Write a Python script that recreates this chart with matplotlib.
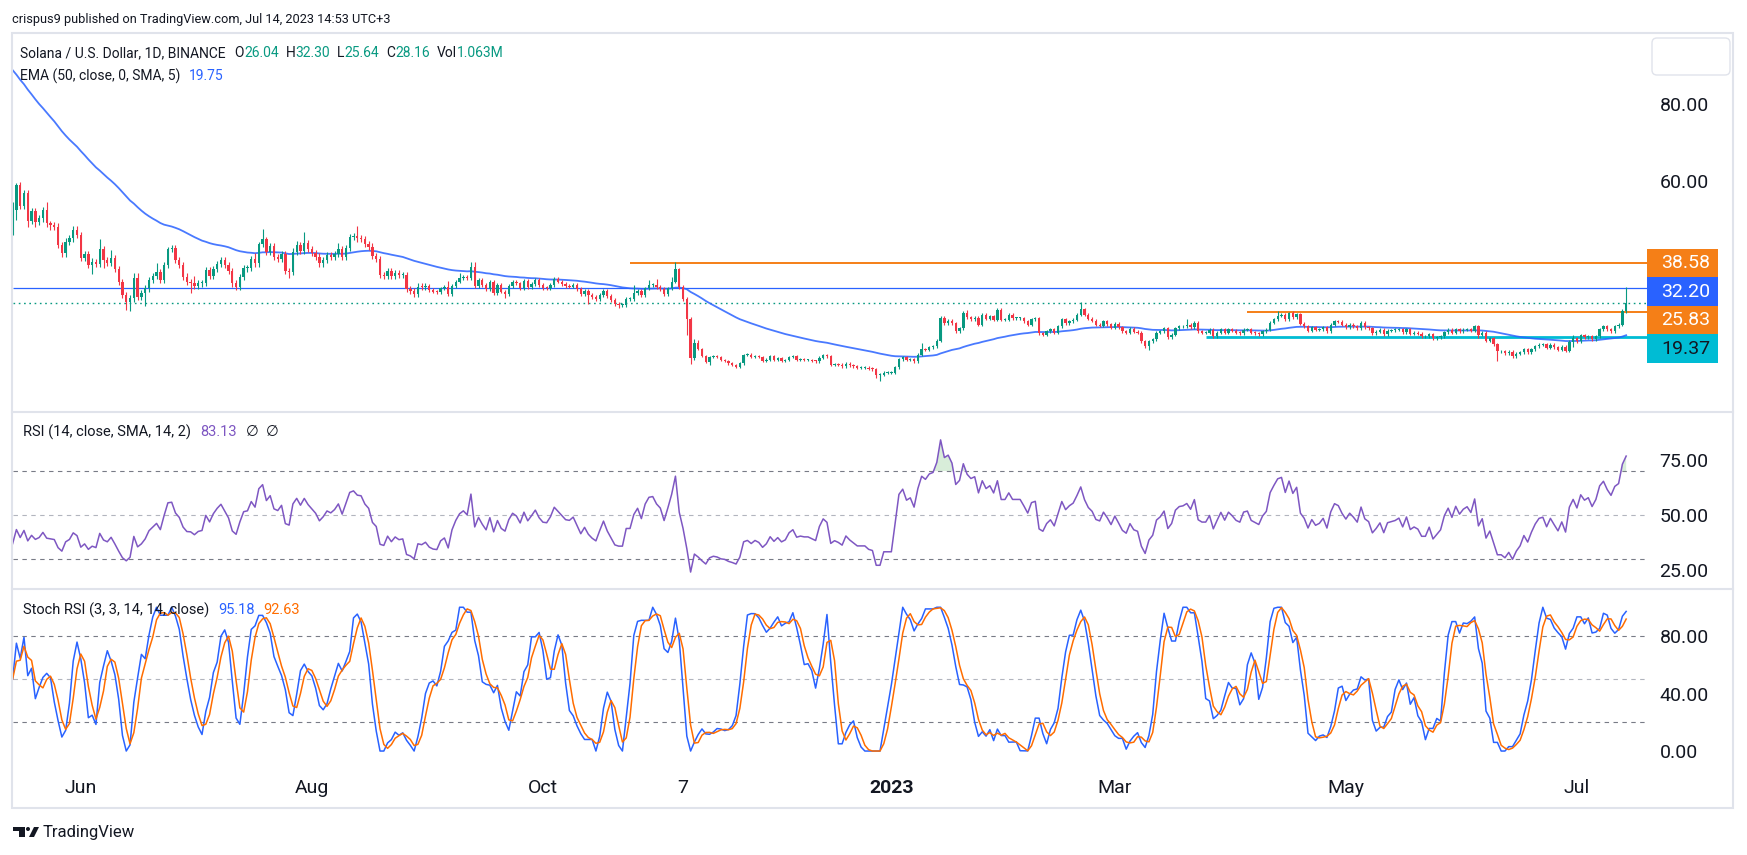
import numpy as np
import pandas as pd
import matplotlib
matplotlib.use("Agg")
import matplotlib.pyplot as plt
from matplotlib.patches import Rectangle, FancyBboxPatch, Polygon, Circle

plt.rcParams['font.family'] = ['Roboto', 'DejaVu Sans']

# daily closes, SOL/USD Binance, 14 May 2022 .. 14 Jul 2023
close_may_aug22 = [
    52.4, 58.9, 53.5, 56.9, 49.6, 52.2, 49.4, 50.2, 52.4, 48.9,
    48.5, 48.1, 43.3, 41.1, 44.2, 45.0, 47.2, 45.9, 40.0, 41.0,
    38.1, 39.0, 38.3, 42.3, 39.4, 38.6, 39.8, 37.0, 33.7, 30.3,
    28.6, 29.4, 34.6, 29.9, 30.7, 32.0, 34.2, 35.2, 36.2, 34.2,
    38.1, 42.2, 42.4, 39.4, 38.1, 35.1, 33.6, 33.5, 32.6, 33.3,
    33.5, 36.8, 35.2, 37.1, 38.4, 39.4, 38.0, 36.5, 33.3, 32.4,
    34.9, 37.2, 37.4, 39.6, 38.5, 43.5, 44.8, 41.6, 43.0, 40.1,
    39.7, 41.0, 36.6, 36.2, 41.6, 43.3, 41.7, 43.7, 42.3, 41.3,
    40.3, 38.5, 39.4, 40.7, 40.3, 41.0, 42.2, 40.3, 42.6, 45.3,
    45.7, 45.0, 44.9, 43.6, 42.9, 40.4, 39.6, 35.5, 35.2, 36.6,
    35.3, 36.0, 35.4, 35.5, 31.8, 31.4, 30.6, 32.5, 32.3, 32.6]
close_sep_dec22 = [
    31.6, 31.2, 31.1, 32.0, 32.3, 30.6, 32.6, 33.8, 34.7, 35.1,
    34.6, 37.7, 32.6, 34.2, 32.9, 31.8, 33.8, 30.9, 32.9, 31.2,
    30.6, 32.6, 33.8, 33.3, 32.0, 33.9, 32.3, 33.2, 34.2, 32.9,
    32.1, 32.0, 32.9, 34.4, 33.8, 33.2, 32.6, 32.5, 32.9, 31.8,
    30.6, 31.3, 30.3, 29.7, 29.3, 30.3, 31.3, 30.0, 29.0, 27.9,
    27.7, 27.7, 29.3, 29.3, 30.7, 31.4, 30.3, 32.0, 32.9, 33.0,
    32.3, 31.9, 30.6, 32.0, 33.8, 37.0, 32.3, 29.3, 24.1, 14.0,
    17.7, 16.3, 14.5, 12.9, 14.1, 14.4, 14.1, 13.4, 13.2, 12.5,
    12.1, 11.6, 12.5, 14.6, 14.8, 14.1, 14.5, 14.1, 13.1, 13.5,
    14.3, 13.5, 13.9, 13.2, 13.4, 14.1, 14.4, 13.4, 13.5, 13.4,
    13.4, 13.2, 13.0, 14.0, 14.6, 14.3, 12.1]
close_dec22_apr23 = [
    12.3, 12.1, 11.8, 12.4, 12.0, 11.7, 11.4, 11.4, 11.4, 11.1,
    11.0, 9.5, 9.5, 10.1, 10.1, 10.1, 11.5, 13.6, 14.1, 13.4,
    13.6, 13.0, 14.7, 16.2, 16.0, 16.7, 16.9, 18.4, 24.4, 22.9,
    23.6, 22.9, 20.8, 21.6, 25.7, 24.5, 24.0, 24.4, 22.5, 25.1,
    24.1, 24.7, 23.8, 26.4, 23.8, 23.8, 25.1, 24.2, 24.2, 24.2,
    23.4, 22.5, 24.0, 24.2, 20.3, 19.9, 20.9, 21.4, 20.5, 22.1,
    24.0, 22.9, 23.5, 23.9, 25.1, 26.6, 25.1, 24.1, 23.6, 22.5,
    22.3, 23.4, 22.7, 21.8, 22.8, 21.9, 20.9, 20.5, 21.5, 20.7,
    20.5, 18.3, 17.0, 18.3, 18.8, 20.5, 20.9, 21.6, 19.3, 19.9,
    21.6, 22.1, 22.2, 22.5, 21.9, 23.1, 20.8, 20.5, 20.5, 21.2,
    19.6, 20.5, 21.4, 20.5, 21.4, 21.0, 20.5, 20.3]
close_apr_jul23 = [
    21.3, 21.4, 20.5, 20.3, 20.1, 20.8, 21.2, 23.1, 24.0, 24.9,
    25.1, 24.0, 25.5, 24.5, 25.3, 22.8, 22.2, 21.0, 21.9, 21.2,
    21.4, 21.9, 20.8, 22.5, 23.5, 23.3, 22.5, 21.9, 22.5, 22.1,
    21.6, 23.1, 21.9, 21.6, 20.3, 20.7, 21.2, 20.1, 21.0, 21.1,
    21.2, 21.4, 20.6, 21.4, 20.2, 20.4, 20.2, 19.5, 19.5, 20.1,
    19.0, 19.3, 19.6, 20.6, 21.2, 20.5, 21.4, 20.8, 21.2, 21.4,
    21.0, 22.1, 19.9, 20.5, 18.4, 19.0, 17.5, 15.6, 15.6, 15.1,
    15.5, 14.4, 15.0, 15.4, 16.2, 15.4, 16.2, 16.9, 17.4, 17.5,
    16.6, 17.3, 16.7, 16.1, 16.8, 15.8, 18.1, 19.0, 18.2, 19.8,
    19.3, 19.6, 18.8, 19.6, 21.4, 22.1, 21.4, 20.9, 22.1, 22.5,
    26.04, 28.16]

# wick length above / below each body, same order as the closes
up_may_aug22 = [
    2.0, 0.5, 0.8, 0.8, 0.8, 0.8, 0.8, 0.8, 0.8, 2.0,
    0.6, 0.8, 0.8, 0.8, 0.8, 0.8, 1.1, 1.0, 0.8, 0.8,
    0.8, 0.8, 0.6, 2.5, 0.8, 0.8, 2.2, 0.8, 0.8, 0.8,
    0.8, 0.8, 1.3, 1.3, 0.8, 0.8, 0.8, 0.8, 2.3, 0.8,
    0.8, 0.7, 0.8, 0.8, 0.8, 0.8, 0.8, 0.8, 1.7, 0.8,
    0.8, 0.8, 0.8, 0.8, 0.8, 0.8, 0.8, 0.8, 0.8, 0.8,
    0.8, 0.8, 0.8, 0.8, 1.5, 0.6, 2.7, 0.5, 0.8, 0.8,
    0.8, 0.8, 0.8, 0.8, 0.8, 1.1, 0.8, 3.0, 1.0, 0.8,
    0.8, 0.8, 0.8, 0.8, 0.8, 0.8, 1.5, 0.8, 0.8, 0.8,
    0.8, 2.5, 0.8, 0.8, 0.8, 0.8, 0.8, 0.8, 0.8, 0.8,
    0.8, 0.8, 0.8, 0.8, 0.8, 0.8, 0.8, 1.0, 0.8, 0.8]
dn_may_aug22 = [
    3.0, 2.6, 0.8, 0.8, 1.5, 0.8, 1.3, 0.8, 0.8, 0.8,
    1.3, 0.8, 0.8, 1.0, 0.8, 0.8, 0.8, 0.8, 0.8, 0.8,
    0.8, 2.3, 0.8, 0.8, 2.2, 0.8, 0.8, 0.8, 0.8, 0.8,
    2.2, 2.6, 0.8, 0.8, 0.8, 3.2, 0.8, 0.8, 0.8, 0.8,
    0.8, 0.8, 0.8, 0.8, 0.8, 0.8, 0.8, 2.6, 0.8, 0.8,
    0.8, 0.8, 0.8, 0.8, 0.8, 0.8, 0.8, 0.8, 0.8, 0.8,
    0.8, 0.8, 0.8, 0.8, 0.8, 0.8, 0.8, 0.8, 0.8, 0.8,
    0.8, 0.8, 0.8, 1.4, 0.8, 0.8, 0.8, 0.8, 0.8, 0.8,
    0.8, 0.8, 0.8, 0.8, 0.8, 0.8, 0.8, 0.8, 0.8, 0.8,
    0.8, 0.8, 0.8, 0.8, 0.8, 0.8, 0.8, 0.8, 0.8, 0.8,
    0.8, 0.8, 0.8, 0.8, 0.8, 0.8, 0.8, 0.8, 0.8, 0.8]
up_sep_dec22 = [
    0.5, 0.5, 0.5, 0.5, 0.5, 1.7, 0.5, 0.5, 1.3, 0.5,
    0.5, 1.3, 1.2, 0.5, 0.5, 0.5, 0.5, 0.5, 0.5, 0.5,
    0.5, 0.5, 0.5, 0.5, 0.5, 0.5, 0.5, 0.5, 0.5, 0.5,
    0.5, 0.5, 0.5, 0.5, 0.5, 0.5, 0.5, 0.5, 0.5, 0.5,
    0.5, 0.5, 0.5, 0.5, 0.5, 0.5, 0.5, 0.5, 0.5, 0.5,
    0.5, 0.5, 0.5, 0.5, 2.2, 0.5, 0.5, 0.5, 1.4, 0.5,
    1.4, 0.5, 0.5, 0.5, 1.2, 1.9, 0.3, 0.5, 0.5, 0.5,
    1.1, 0.9, 0.3, 0.3, 0.3, 0.3, 0.3, 0.3, 0.3, 0.3,
    0.3, 0.3, 0.3, 0.3, 0.3, 0.3, 0.3, 0.3, 0.3, 0.3,
    0.3, 0.3, 0.3, 0.3, 0.3, 0.3, 0.3, 0.3, 0.3, 0.3,
    0.3, 0.3, 0.3, 0.3, 0.3, 0.3, 0.3]
dn_sep_dec22 = [
    0.5, 0.5, 0.5, 0.5, 0.5, 0.5, 0.5, 0.5, 0.5, 0.5,
    0.5, 0.5, 0.5, 0.5, 0.5, 0.5, 0.5, 0.5, 0.5, 0.5,
    1.2, 0.5, 0.5, 0.5, 0.5, 0.5, 0.5, 0.5, 0.5, 0.5,
    0.5, 0.5, 0.5, 0.5, 0.5, 0.5, 0.5, 0.5, 0.5, 0.5,
    0.5, 0.5, 2.4, 0.5, 0.5, 0.5, 0.5, 0.5, 0.5, 0.5,
    0.7, 0.5, 0.5, 0.5, 0.5, 0.5, 0.5, 0.5, 0.5, 0.5,
    0.5, 0.5, 0.5, 0.5, 0.5, 0.5, 0.5, 0.5, 4.1, 1.6,
    0.5, 0.3, 0.3, 0.3, 0.7, 0.3, 0.3, 0.3, 0.3, 0.3,
    0.3, 0.3, 0.4, 0.3, 0.3, 0.3, 0.3, 0.3, 0.3, 0.3,
    0.3, 0.3, 0.3, 0.3, 0.3, 0.3, 0.3, 0.3, 0.3, 0.3,
    0.3, 0.3, 0.3, 0.3, 0.3, 0.3, 0.3]
up_dec22_apr23 = [
    0.4, 0.4, 0.4, 0.4, 0.4, 0.4, 0.4, 0.4, 0.4, 0.4,
    0.4, 0.4, 0.4, 0.4, 0.4, 0.4, 0.4, 0.4, 0.4, 0.4,
    0.4, 0.4, 0.4, 1.5, 0.4, 0.4, 0.4, 0.4, 0.4, 0.4,
    0.4, 0.4, 0.4, 0.4, 0.4, 0.8, 0.4, 0.4, 0.4, 0.4,
    0.4, 0.4, 0.4, 0.6, 0.4, 0.4, 0.4, 0.4, 0.4, 0.4,
    0.4, 0.4, 0.4, 0.4, 0.4, 0.4, 0.4, 0.4, 0.4, 0.4,
    0.4, 0.4, 0.4, 0.4, 0.4, 2.0, 0.4, 0.4, 0.4, 0.4,
    0.4, 0.4, 0.4, 0.4, 0.4, 0.4, 0.4, 0.4, 0.4, 0.4,
    0.4, 0.4, 0.4, 0.4, 0.4, 0.4, 0.4, 0.4, 0.4, 0.4,
    0.4, 0.4, 0.4, 1.5, 0.4, 0.4, 0.4, 0.4, 0.4, 0.4,
    0.4, 0.4, 0.4, 0.4, 0.4, 0.4, 0.4, 0.4]
dn_dec22_apr23 = [
    0.4, 0.4, 0.4, 0.4, 0.4, 0.4, 0.4, 0.4, 0.4, 0.4,
    0.4, 0.7, 1.5, 0.4, 0.4, 0.4, 0.4, 0.4, 0.4, 0.4,
    0.4, 0.4, 0.4, 0.4, 0.4, 0.4, 0.4, 0.4, 0.4, 0.4,
    0.4, 0.4, 0.4, 0.4, 0.4, 0.4, 0.4, 0.4, 0.4, 0.4,
    0.4, 0.4, 0.4, 0.4, 0.4, 0.4, 0.4, 0.4, 0.4, 0.4,
    0.4, 0.4, 0.4, 0.4, 0.4, 0.4, 0.4, 0.4, 0.4, 0.4,
    0.4, 0.4, 0.4, 0.4, 0.4, 0.4, 0.4, 0.4, 0.4, 0.4,
    0.4, 0.4, 0.4, 0.4, 0.4, 0.4, 0.4, 0.4, 0.4, 0.4,
    0.4, 0.4, 0.4, 0.9, 0.4, 0.4, 0.4, 0.4, 0.4, 0.4,
    0.4, 0.4, 0.4, 0.4, 0.4, 0.4, 0.4, 0.4, 0.4, 0.4,
    0.4, 0.4, 0.4, 0.4, 0.4, 0.4, 0.4, 0.4]
up_apr_jul23 = [
    0.4, 0.4, 0.4, 0.4, 0.4, 0.4, 0.4, 0.4, 0.4, 1.1,
    0.4, 0.4, 0.4, 0.5, 0.4, 0.4, 0.4, 0.4, 0.4, 0.4,
    0.4, 0.4, 0.4, 0.4, 0.4, 0.4, 0.4, 0.4, 0.4, 0.4,
    0.4, 0.4, 0.4, 0.4, 0.4, 0.4, 0.4, 0.4, 0.4, 0.4,
    0.4, 0.4, 0.4, 0.4, 0.4, 0.4, 0.4, 0.4, 0.4, 0.4,
    0.4, 0.4, 0.4, 0.4, 0.4, 0.4, 0.4, 0.4, 0.4, 0.4,
    0.4, 0.5, 0.4, 0.4, 0.4, 0.4, 0.4, 0.4, 0.4, 0.4,
    0.4, 0.4, 0.4, 0.4, 0.4, 0.4, 0.4, 0.4, 0.4, 0.4,
    0.4, 0.4, 0.4, 0.4, 0.4, 0.4, 0.4, 0.9, 0.4, 0.4,
    0.4, 0.4, 0.4, 0.4, 0.4, 0.4, 0.4, 0.4, 0.4, 0.4,
    0.5, 4.14]
dn_apr_jul23 = [
    0.4, 0.4, 0.4, 0.4, 0.4, 0.4, 0.4, 0.4, 0.4, 0.4,
    0.4, 0.4, 0.4, 0.4, 0.4, 0.4, 0.4, 0.4, 0.4, 0.4,
    0.4, 0.4, 0.4, 0.4, 0.4, 0.4, 0.4, 0.4, 0.4, 0.4,
    0.4, 0.4, 0.4, 0.4, 0.4, 0.4, 0.4, 0.4, 0.4, 0.4,
    0.4, 0.4, 0.4, 0.4, 0.4, 0.4, 0.4, 0.4, 0.4, 0.4,
    0.4, 0.4, 0.4, 0.4, 0.4, 0.4, 0.4, 0.4, 0.4, 0.4,
    0.4, 0.4, 0.8, 0.4, 0.4, 0.4, 0.4, 2.6, 0.4, 0.4,
    0.4, 0.4, 0.4, 0.4, 0.4, 0.4, 0.4, 0.4, 0.4, 0.4,
    0.4, 0.4, 0.4, 0.4, 0.4, 0.4, 0.4, 1.4, 0.4, 0.4,
    0.4, 0.4, 0.4, 0.4, 0.4, 0.4, 0.4, 0.4, 0.4, 0.4,
    0.3, 0.40]

first_open = 49.0
last_day = "2023-07-14"
ema_start = 88.8          # EMA(50) value at the left edge of the chart
rsi_start = (1.5, 3.0)    # avg gain / avg loss at the left edge (RSI about 33)

# values printed in the pane legends
shown_ema = "19.75"
shown_rsi = "83.13"
shown_k, shown_d = "95.18", "92.63"
shown_vol = "1.063M"

# horizontal levels drawn on the chart
level_price = [38.58, 32.20, 25.83, 19.37]
level_from = ["2022-10-24", None, "2023-04-05", "2023-03-25"]
level_color = ["#F57F17", "#2962FF", "#F57F17", "#00BCD4"]
level_lw = [1.4, 0.9, 1.4, 2.0]

tick_days = ["2022-06-01", "2022-08-01", "2022-10-01", "2022-11-07",
             "2023-01-01", "2023-03-01", "2023-05-01", "2023-07-01"]
tick_names = ["Jun", "Aug", "Oct", "7", "2023", "Mar", "May", "Jul"]

# ---------------------------------------------------------------- data prep
closes = np.array(close_may_aug22 + close_sep_dec22 + close_dec22_apr23 + close_apr_jul23)
up_w = np.array(up_may_aug22 + up_sep_dec22 + up_dec22_apr23 + up_apr_jul23)
dn_w = np.array(dn_may_aug22 + dn_sep_dec22 + dn_dec22_apr23 + dn_apr_jul23)
n = len(closes)
opens = np.r_[first_open, closes[:-1]]
highs = np.maximum(opens, closes) + up_w
lows = np.minimum(opens, closes) - dn_w

base = np.datetime64("2022-06-01")
dates = np.datetime64(last_day) - np.arange(n)[::-1]
x = (dates - base).astype(int)

def day(s):
    return int((np.datetime64(s) - base).astype(int))

# EMA 50
ema = np.empty(n)
ema[0] = ema_start
for i in range(1, n):
    ema[i] = ema[i - 1] + 2 / 51 * (closes[i] - ema[i - 1])

# RSI 14 (Wilder) and Stoch RSI (3, 3, 14, 14)
diff = np.diff(closes, prepend=first_open)
ag, al = rsi_start
rsi = []
for g, l in zip(np.clip(diff, 0, None), np.clip(-diff, 0, None)):
    ag = (ag * 13 + g) / 14
    al = (al * 13 + l) / 14
    rsi.append(100 - 100 / (1 + ag / al))
rsi = pd.Series(rsi)
lo14 = rsi.rolling(14, min_periods=1).min()
hi14 = rsi.rolling(14, min_periods=1).max()
stoch = (100 * (rsi - lo14) / (hi14 - lo14)).fillna(50)
k_line = stoch.rolling(3, min_periods=1).mean()
d_line = k_line.rolling(3, min_periods=1).mean()

# ---------------------------------------------------------------- figure
W, H = 1747, 855
DARK = "#131722"
UP, DOWN = "#089981", "#F23645"
fig = plt.figure(figsize=(W / 100, H / 100), dpi=100, facecolor="white")

def rect(l, t, r, b):
    return [l / W, 1 - b / H, (r - l) / W, (b - t) / H]

ax = fig.add_axes(rect(13, 34, 1647, 412))
ax_rsi = fig.add_axes(rect(13, 412, 1647, 589))
ax_st = fig.add_axes(rect(13, 589, 1647, 768))
xlim = (-17.9, 413.5)

for a in (ax, ax_rsi, ax_st):
    a.set_xlim(*xlim)
    for s in a.spines.values():
        s.set_visible(False)
    a.yaxis.tick_right()
    a.tick_params(axis="y", length=0, pad=9, labelsize=14, labelcolor=DARK)
    a.tick_params(axis="x", length=0)
    a.set_xticks([])

# main pane
ax.set_ylim(-0.15, 98.2)
col = np.where(closes >= opens, UP, DOWN)
ax.vlines(x, lows, highs, colors=col, lw=0.8, zorder=3)
ax.bar(x, np.maximum(np.abs(closes - opens), 0.25), bottom=np.minimum(opens, closes),
       width=0.62, color=col, lw=0, zorder=4)
ax.plot(x, ema, color="#2962FF", lw=1.3, alpha=0.85, zorder=2)
for p, start, c, lw in zip(level_price, level_from, level_color, level_lw):
    x0 = xlim[0] if start is None else day(start)
    ax.plot([x0, xlim[1]], [p, p], color=c, lw=lw, zorder=1, solid_capstyle="butt")
ax.axhline(closes[-1], color=UP, lw=1, ls=(0, (1.2, 2.6)), zorder=1)
ax.set_yticks([60, 80])
ax.set_yticklabels(["60.00", "80.00"])

# RSI pane
ax_rsi.set_ylim(16.4, 96.8)
ax_rsi.axhline(70, color="#787B86", lw=0.8, ls=(0, (4, 4)))
ax_rsi.axhline(50, color="#B2B5BE", lw=0.8, ls=(0, (4, 4)))
ax_rsi.axhline(30, color="#787B86", lw=0.8, ls=(0, (4, 4)))
ax_rsi.fill_between(x, rsi, 70, where=rsi > 70, interpolate=True, color="#66BB6A", alpha=0.25, lw=0)
ax_rsi.plot(x, rsi, color="#7E57C2", lw=1.1)
ax_rsi.set_yticks([25, 50, 75])
ax_rsi.set_yticklabels(["25.00", "50.00", "75.00"])

# Stoch RSI pane
ax_st.set_ylim(-11.8, 112.7)
ax_st.axhline(80, color="#787B86", lw=0.8, ls=(0, (4, 4)))
ax_st.axhline(50, color="#B2B5BE", lw=0.8, ls=(0, (4, 4)))
ax_st.axhline(20, color="#787B86", lw=0.8, ls=(0, (4, 4)))
ax_st.plot(x, k_line, color="#2962FF", lw=1.1)
ax_st.plot(x, d_line, color="#FF6D00", lw=1.1)
ax_st.set_yticks([0, 40, 80])
ax_st.set_yticklabels(["0.00", "40.00", "80.00"])
ax_st.set_xticks([day(s) for s in tick_days])
ax_st.set_xticklabels(tick_names)
ax_st.tick_params(axis="x", length=0, pad=8, labelsize=14, labelcolor=DARK)
for t in ax_st.get_xticklabels():
    if t.get_text() == "2023":
        t.set_fontweight("bold")

# overlay in pixel units for frame, labels and legends
ov = fig.add_axes([0, 0, 1, 1])
ov.set_xlim(0, W)
ov.set_ylim(H, 0)
ov.axis("off")
ov.add_patch(Rectangle((12, 33), 1721, 775, fill=False, ec="#E0E3EB", lw=1.5))
for yy in (412, 589):
    ov.plot([12, 1733], [yy, yy], color="#E0E3EB", lw=1.5)
ov.add_patch(FancyBboxPatch((1652, 38), 78, 37, boxstyle="round,pad=0,rounding_size=5",
                            fc="white", ec="#E0E3EB", lw=1))

# price labels on the right axis, stacked so they do not overlap
prev = -1e9
for p, c in sorted(zip(level_price, level_color), reverse=True):
    yc = H - ax.transData.transform((0, p))[1]
    yc = max(yc, prev + 28.5)
    prev = yc
    ov.add_patch(Rectangle((1647, yc - 14.5), 71, 29, color=c, lw=0))
    ov.text(1686, yc, f"{p:.2f}", color=DARK if c == "#00BCD4" else "white",
            fontsize=14, ha="center", va="center")

renderer = fig.canvas.get_renderer()

def write(x0, y0, parts, size):
    xx = x0
    for s, c, gap in parts:
        t = ov.text(xx, y0, s, color=c, fontsize=size, ha="left", va="center")
        xx += t.get_window_extent(renderer).width + gap

ov.text(12, 20, "crispus9 published on TradingView.com, Jul 14, 2023 14:53 UTC+3",
        color=DARK, fontsize=9.2, ha="left", va="center")
write(20, 53, [("Solana / U.S. Dollar, 1D, BINANCE", DARK, 9),
               ("O", DARK, 0), (f"{opens[-1]:.2f}", UP, 7),
               ("H", DARK, 0), (f"{highs[-1]:.2f}", UP, 7),
               ("L", DARK, 0), (f"{lows[-1]:.2f}", UP, 7),
               ("C", DARK, 0), (f"{closes[-1]:.2f}", UP, 7),
               ("Vol", DARK, 0), (shown_vol, UP, 0)], 10)
write(20, 76, [("EMA (50, close, 0, SMA, 5)", DARK, 9), (shown_ema, "#2962FF", 0)], 10)
write(23, 432, [("RSI (14, close, SMA, 14, 2)", DARK, 9), (shown_rsi, "#7E57C2", 9),
                ("∅", DARK, 8), ("∅", DARK, 0)], 10.5)
write(23, 610, [("Stoch RSI (3, 3, 14, 14, close)", DARK, 9), (shown_k, "#2962FF", 9),
                (shown_d, "#FF6D00", 0)], 10.5)

# TradingView logo at the bottom
ov.add_patch(Polygon([(13, 827), (25, 827), (25, 837), (19, 837), (19, 831), (13, 831)],
                     closed=True, color=DARK, lw=0))
ov.add_patch(Circle((28, 829), 2, color=DARK, lw=0))
ov.add_patch(Polygon([(29, 837), (34, 827), (39, 827), (34, 837)], closed=True, color=DARK, lw=0))
ov.text(43, 832, "TradingView", color=DARK, fontsize=12, ha="left", va="center")

fig.savefig("out.png", dpi=100, facecolor="white")
